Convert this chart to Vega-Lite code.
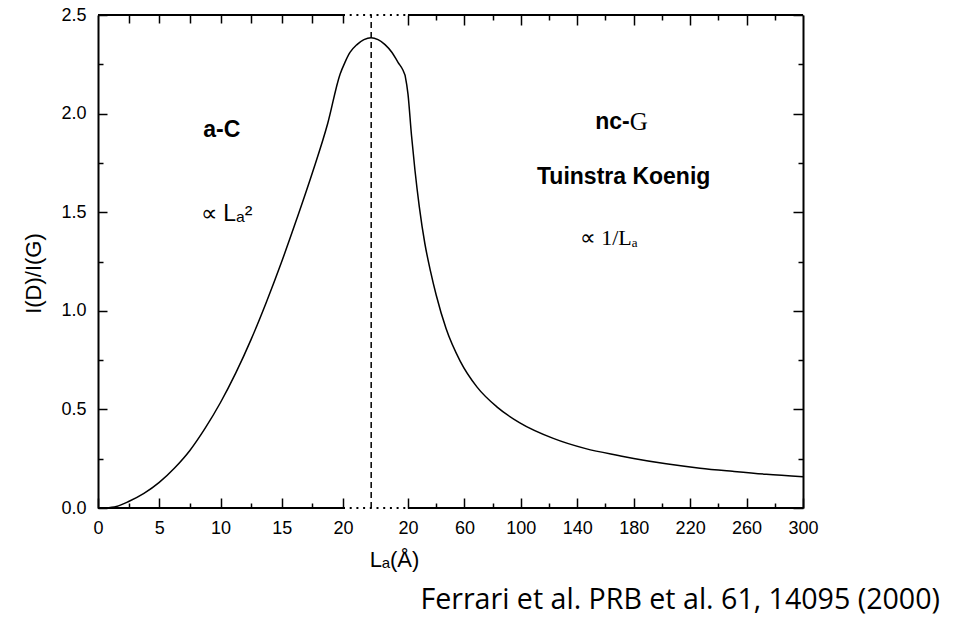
{
  "$schema": "https://vega.github.io/schema/vega-lite/v6.json",
  "width": 705,
  "height": 493,
  "autosize": {"type": "none"},
  "padding": {"left": 98, "top": 15, "right": 151, "bottom": 113},
  "background": "white",
  "title": {
    "text": "Ferrari et al. PRB  et al. 61, 14095 (2000)",
    "orient": "bottom",
    "anchor": "end",
    "frame": "group",
    "dx": 137,
    "offset": 16,
    "font": "Open Sans",
    "fontSize": 28.6,
    "fontWeight": "normal",
    "color": "black"
  },
  "config": {
    "view": {"stroke": null},
    "axis": {
      "grid": false,
      "labelFont": "Liberation Sans",
      "labelFontSize": 18,
      "labelColor": "black",
      "tickColor": "black",
      "domainColor": "black",
      "titleFont": "Liberation Sans",
      "titleFontWeight": "normal",
      "titleColor": "black"
    }
  },
  "datasets": {
    "leftCurve": [
      {"La": 0.6, "ratio": 0.0},
      {"La": 1.5, "ratio": 0.008},
      {"La": 2.5, "ratio": 0.033},
      {"La": 3.75, "ratio": 0.074},
      {"La": 5, "ratio": 0.13},
      {"La": 6.25, "ratio": 0.203},
      {"La": 7.5, "ratio": 0.292},
      {"La": 8.75, "ratio": 0.405},
      {"La": 10, "ratio": 0.535},
      {"La": 11.25, "ratio": 0.685},
      {"La": 12.5, "ratio": 0.855},
      {"La": 13.75, "ratio": 1.045},
      {"La": 15, "ratio": 1.25},
      {"La": 16.25, "ratio": 1.47},
      {"La": 17.5, "ratio": 1.7},
      {"La": 18.75, "ratio": 1.95},
      {"La": 19.76, "ratio": 2.2},
      {"La": 20.16, "ratio": 2.26},
      {"La": 20.57, "ratio": 2.31},
      {"La": 21.14, "ratio": 2.35},
      {"La": 21.71, "ratio": 2.375},
      {"La": 22.29, "ratio": 2.385},
      {"La": 22.86, "ratio": 2.375},
      {"La": 23.43, "ratio": 2.35},
      {"La": 24.0, "ratio": 2.31},
      {"La": 24.49, "ratio": 2.26},
      {"La": 24.9, "ratio": 2.22},
      {"La": 25.06, "ratio": 2.196}
    ],
    "rightCurve": [
      {"La": 17.9, "ratio": 2.196},
      {"La": 20, "ratio": 2.1},
      {"La": 22.5, "ratio": 1.89},
      {"La": 25, "ratio": 1.71},
      {"La": 28, "ratio": 1.53},
      {"La": 32, "ratio": 1.34},
      {"La": 36, "ratio": 1.2},
      {"La": 40, "ratio": 1.08},
      {"La": 47, "ratio": 0.91},
      {"La": 57, "ratio": 0.745},
      {"La": 69, "ratio": 0.613},
      {"La": 83, "ratio": 0.513},
      {"La": 99, "ratio": 0.433},
      {"La": 123, "ratio": 0.353},
      {"La": 146, "ratio": 0.301},
      {"La": 170, "ratio": 0.265},
      {"La": 180, "ratio": 0.251},
      {"La": 203, "ratio": 0.224},
      {"La": 227, "ratio": 0.202},
      {"La": 250, "ratio": 0.186},
      {"La": 274, "ratio": 0.171},
      {"La": 300, "ratio": 0.159}
    ],
    "leftFrame": [
      {"from": 0, "to": 20, "level": 0},
      {"from": 0, "to": 20, "level": 2.5}
    ],
    "breakFrame": [
      {"from": 20, "to": 25.31, "level": 0},
      {"from": 20, "to": 25.31, "level": 2.5}
    ],
    "rightFrame": [
      {"from": 20, "to": 300, "level": 0},
      {"from": 20, "to": 300, "level": 2.5}
    ],
    "peakLine": [
      {"La": 22.3, "low": 0, "high": 2.5}
    ],
    "leftText": [
      {"La": 10.1, "ratio": 1.917, "label": "a-C"}
    ],
    "leftLaw": [
      {"La": 10.5, "ratio": 1.49, "label": "∝ Lₐ²"}
    ],
    "rightPrefix": [
      {"La": 177.2, "ratio": 1.957, "label": "nc-"}
    ],
    "rightBold": [
      {"La": 172.9, "ratio": 1.678, "label": "Tuinstra Koenig"}
    ],
    "rightSerif": [
      {"La": 177.2, "ratio": 1.957, "label": "G"}
    ],
    "rightLaw": [
      {"La": 162.3, "ratio": 1.369, "label": "∝ 1/Lₐ"}
    ]
  },
  "layer": [
    {
      "data": {"name": "leftCurve"},
      "mark": {"type": "line", "color": "black", "strokeWidth": 1.5, "interpolate": "monotone"},
      "encoding": {
        "x": {
          "field": "La", "type": "quantitative",
          "scale": {"domain": [0, 57.55], "nice": false, "zero": false},
          "axis": {
            "orient": "bottom",
            "values": [0, 2.5, 5, 7.5, 10, 12.5, 15, 17.5, 20],
            "labelExpr": "datum.value % 5 === 0 ? datum.label : ''",
            "tickSize": -10,
            "tickWidth": 1.5,
            "tickDash": {"condition": {"test": "datum.value % 5 !== 0", "value": [5, 100]}, "value": [100, 0]},
            "labelPadding": 21,
            "labelFlush": false,
            "domain": false,
            "title": "Lₐ(Å)",
            "titleFontSize": 22,
            "titleX": 296,
            "titlePadding": 12
          }
        },
        "y": {
          "field": "ratio", "type": "quantitative",
          "scale": {"domain": [0, 2.5], "nice": false, "zero": false},
          "axis": {
            "orient": "left",
            "values": [0, 0.25, 0.5, 0.75, 1, 1.25, 1.5, 1.75, 2, 2.25, 2.5],
            "format": ".1f",
            "labelExpr": "datum.value % 0.5 === 0 ? datum.label : ''",
            "tickSize": -9,
            "tickWidth": 1.5,
            "tickDash": {"condition": {"test": "datum.value % 0.5 !== 0", "value": [5, 100]}, "value": [100, 0]},
            "labelPadding": 21,
            "labelFlush": false,
            "domain": true,
            "domainWidth": 2,
            "title": "I(D)/I(G)",
            "titleFontSize": 22,
            "titlePadding": 15,
            "titleY": 258
          }
        }
      }
    },
    {
      "data": {"name": "rightCurve"},
      "mark": {"type": "line", "color": "black", "strokeWidth": 1.5, "interpolate": "monotone"},
      "encoding": {
        "x": {
          "field": "La", "type": "quantitative",
          "scale": {"domain": [-199.7, 300], "nice": false, "zero": false},
          "axis": {
            "orient": "bottom",
            "values": [20, 40, 60, 80, 100, 120, 140, 160, 180, 200, 220, 240, 260, 280, 300],
            "labelExpr": "(datum.value - 20) % 40 === 0 ? datum.label : ''",
            "tickSize": -10,
            "tickWidth": 1.5,
            "tickDash": {"condition": {"test": "(datum.value - 20) % 40 !== 0", "value": [5, 100]}, "value": [100, 0]},
            "labelPadding": 21,
            "labelFlush": false,
            "domain": false,
            "title": null
          }
        },
        "y": {
          "field": "ratio", "type": "quantitative",
          "scale": {"domain": [0, 2.5], "nice": false, "zero": false},
          "axis": {
            "orient": "right",
            "values": [0, 0.25, 0.5, 0.75, 1, 1.25, 1.5, 1.75, 2, 2.25, 2.5],
            "labels": false,
            "tickSize": -10,
            "tickWidth": 1.5,
            "tickDash": {"condition": {"test": "datum.value % 0.5 !== 0", "value": [5, 100]}, "value": [100, 0]},
            "domain": true,
            "domainWidth": 2,
            "title": null
          }
        }
      }
    },
    {
      "data": {"name": "leftFrame"},
      "mark": {"type": "rule", "color": "black", "strokeWidth": 2},
      "encoding": {
        "x": {
          "field": "from", "type": "quantitative",
          "scale": {"domain": [0, 57.55], "nice": false, "zero": false},
          "axis": {
            "orient": "top",
            "values": [2.5, 5, 7.5, 10, 12.5, 15, 17.5, 20],
            "labels": false,
            "tickSize": -8,
            "tickWidth": 1.5,
            "domain": false,
            "title": null
          }
        },
        "x2": {"field": "to"},
        "y": {"field": "level", "type": "quantitative", "scale": {"domain": [0, 2.5], "nice": false, "zero": false}, "axis": null}
      }
    },
    {
      "data": {"name": "rightFrame"},
      "mark": {"type": "rule", "color": "black", "strokeWidth": 2},
      "encoding": {
        "x": {
          "field": "from", "type": "quantitative",
          "scale": {"domain": [-199.7, 300], "nice": false, "zero": false},
          "axis": {
            "orient": "top",
            "values": [20, 40, 60, 80, 100, 120, 140, 160, 180, 200, 220, 240, 260, 280],
            "labels": false,
            "tickSize": -10,
            "tickWidth": 1.5,
            "tickDash": {"condition": {"test": "(datum.value - 20) % 40 !== 0", "value": [5, 100]}, "value": [100, 0]},
            "domain": false,
            "title": null
          }
        },
        "x2": {"field": "to"},
        "y": {"field": "level", "type": "quantitative", "scale": {"domain": [0, 2.5], "nice": false, "zero": false}, "axis": null}
      }
    },
    {
      "data": {"name": "breakFrame"},
      "mark": {"type": "rule", "color": "black", "strokeWidth": 2, "strokeDash": [2, 4.7]},
      "encoding": {
        "x": {"field": "from", "type": "quantitative", "scale": {"domain": [0, 57.55], "nice": false, "zero": false}, "axis": null},
        "x2": {"field": "to"},
        "y": {"field": "level", "type": "quantitative", "scale": {"domain": [0, 2.5], "nice": false, "zero": false}, "axis": null}
      }
    },
    {
      "data": {"name": "peakLine"},
      "mark": {"type": "rule", "color": "black", "strokeWidth": 1.5, "strokeDash": [6, 4]},
      "encoding": {
        "x": {"field": "La", "type": "quantitative", "scale": {"domain": [0, 57.55], "nice": false, "zero": false}, "axis": null},
        "y": {"field": "low", "type": "quantitative", "scale": {"domain": [0, 2.5], "nice": false, "zero": false}, "axis": null},
        "y2": {"field": "high"}
      }
    },
    {
      "data": {"name": "leftText"},
      "mark": {"type": "text", "font": "Liberation Sans", "fontWeight": "bold", "fontSize": 23, "color": "black", "align": "center", "baseline": "middle"},
      "encoding": {
        "x": {"field": "La", "type": "quantitative", "scale": {"domain": [0, 57.55], "nice": false, "zero": false}, "axis": null},
        "y": {"field": "ratio", "type": "quantitative", "scale": {"domain": [0, 2.5], "nice": false, "zero": false}, "axis": null},
        "text": {"field": "label"}
      }
    },
    {
      "data": {"name": "leftLaw"},
      "mark": {"type": "text", "font": "Liberation Sans", "fontSize": 23, "color": "black", "align": "center", "baseline": "middle"},
      "encoding": {
        "x": {"field": "La", "type": "quantitative", "scale": {"domain": [0, 57.55], "nice": false, "zero": false}, "axis": null},
        "y": {"field": "ratio", "type": "quantitative", "scale": {"domain": [0, 2.5], "nice": false, "zero": false}, "axis": null},
        "text": {"field": "label"}
      }
    },
    {
      "data": {"name": "rightPrefix"},
      "mark": {"type": "text", "font": "Liberation Sans", "fontWeight": "bold", "fontSize": 23, "color": "black", "align": "right", "baseline": "middle"},
      "encoding": {
        "x": {"field": "La", "type": "quantitative", "scale": {"domain": [-199.7, 300], "nice": false, "zero": false}, "axis": null},
        "y": {"field": "ratio", "type": "quantitative", "scale": {"domain": [0, 2.5], "nice": false, "zero": false}, "axis": null},
        "text": {"field": "label"}
      }
    },
    {
      "data": {"name": "rightBold"},
      "mark": {"type": "text", "font": "Liberation Sans", "fontWeight": "bold", "fontSize": 23, "color": "black", "align": "center", "baseline": "middle"},
      "encoding": {
        "x": {"field": "La", "type": "quantitative", "scale": {"domain": [-199.7, 300], "nice": false, "zero": false}, "axis": null},
        "y": {"field": "ratio", "type": "quantitative", "scale": {"domain": [0, 2.5], "nice": false, "zero": false}, "axis": null},
        "text": {"field": "label"}
      }
    },
    {
      "data": {"name": "rightSerif"},
      "mark": {"type": "text", "font": "Liberation Serif", "fontSize": 25, "color": "black", "align": "left", "baseline": "middle"},
      "encoding": {
        "x": {"field": "La", "type": "quantitative", "scale": {"domain": [-199.7, 300], "nice": false, "zero": false}, "axis": null},
        "y": {"field": "ratio", "type": "quantitative", "scale": {"domain": [0, 2.5], "nice": false, "zero": false}, "axis": null},
        "text": {"field": "label"}
      }
    },
    {
      "data": {"name": "rightLaw"},
      "mark": {"type": "text", "font": "Liberation Serif", "fontSize": 22, "color": "black", "align": "center", "baseline": "middle"},
      "encoding": {
        "x": {"field": "La", "type": "quantitative", "scale": {"domain": [-199.7, 300], "nice": false, "zero": false}, "axis": null},
        "y": {"field": "ratio", "type": "quantitative", "scale": {"domain": [0, 2.5], "nice": false, "zero": false}, "axis": null},
        "text": {"field": "label"}
      }
    }
  ],
  "resolve": {
    "scale": {"x": "independent", "y": "independent"},
    "axis": {"x": "independent", "y": "independent"}
  }
}
